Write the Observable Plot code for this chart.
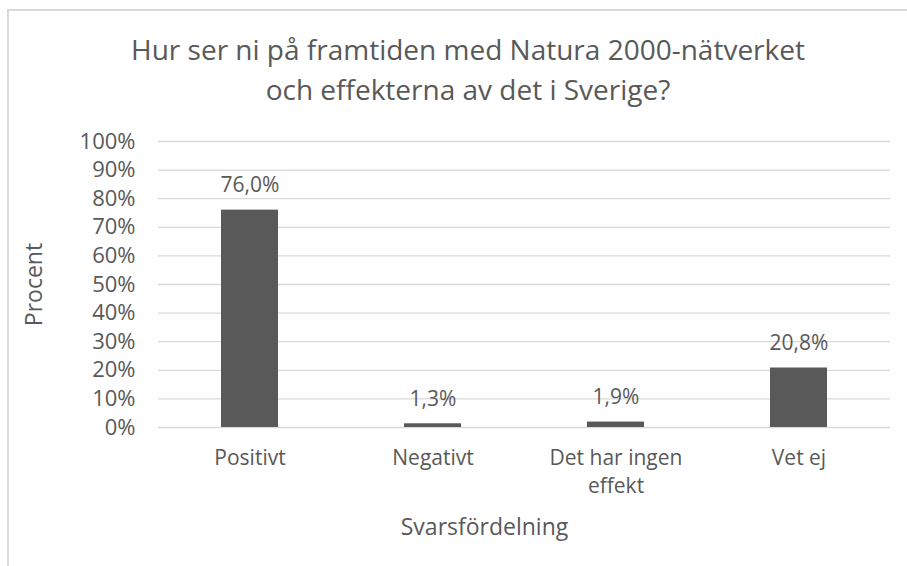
<!DOCTYPE html>
<html><head><meta charset="utf-8">
<script src="https://cdn.jsdelivr.net/npm/d3@7"></script>
<script src="https://cdn.jsdelivr.net/npm/@observablehq/plot@0.6"></script>
<style>
html,body{margin:0;padding:0;background:#fff;width:907px;height:566px;overflow:hidden;font-family:"Open Sans",sans-serif;}
#frame{position:absolute;left:7px;top:9px;width:2000px;height:2000px;border-left:2px solid #d9d9d9;border-top:2px solid #d9d9d9;}
#title{position:absolute;left:0;width:936px;top:29px;text-align:center;font-size:28px;line-height:40px;color:#595959;white-space:nowrap;}
#chart{position:absolute;left:0;top:0;}
</style>
</head><body>
<div id="frame"></div>
<div id="chart"></div>
<div id="title">Hur ser ni på framtiden med Natura 2000-nätverket<br>och effekterna av det i Sverige?</div>
<script>
const categories = ["Positivt", "Negativt", "Det har ingen effekt", "Vet ej"];
const values = [76.0, 1.3, 1.9, 20.8];
const yTicks = [0, 10, 20, 30, 40, 50, 60, 70, 80, 90, 100];
const yLabel = "Procent";
const xLabel = "Svarsfördelning";

const data = categories.map((c, i) => ({cat: c, val: values[i]}));
const fmt = v => v.toFixed(1).replace(".", ",") + "%";
const grey = "#595959";

const chart = Plot.plot({
  width: 907,
  height: 566,
  marginLeft: 158,
  marginRight: 17,
  marginTop: 141,
  marginBottom: 139,
  style: {fontFamily: "'Open Sans', sans-serif", fontSize: "21px", color: grey, background: "transparent"},
  x: {domain: categories, paddingInner: 0.69, paddingOuter: 0.345},
  y: {domain: [0, 100]},
  marks: [
    Plot.gridY(yTicks, {stroke: "#d9d9d9", strokeOpacity: 1, strokeWidth: 1.3}),
    Plot.axisY(yTicks, {tickSize: 0, tickPadding: 23, tickFormat: d => d + "%", label: null, fill: grey, fontSize: 22}),
    Plot.axisX({tickSize: 0, tickPadding: 18, label: null, fill: grey, fontSize: 21, lineWidth: 7, lineHeight: 1.33}),
    Plot.barY(data, {x: "cat", y: "val", fill: grey}),
    Plot.text(data, {x: "cat", y: "val", text: d => fmt(d.val), lineAnchor: "bottom", dy: -18, fill: grey, fontSize: 21}),
    Plot.text([yLabel], {frameAnchor: "left", text: d => d, rotate: -90, textAnchor: "middle", lineAnchor: "middle", dx: -124, fill: grey, fontSize: 23}),
    Plot.text([xLabel], {frameAnchor: "bottom", text: d => d, textAnchor: "middle", lineAnchor: "bottom", dx: -40, dy: 107, fill: grey, fontSize: 23})
  ]
});
document.getElementById("chart").appendChild(chart);
</script>
</body></html>
